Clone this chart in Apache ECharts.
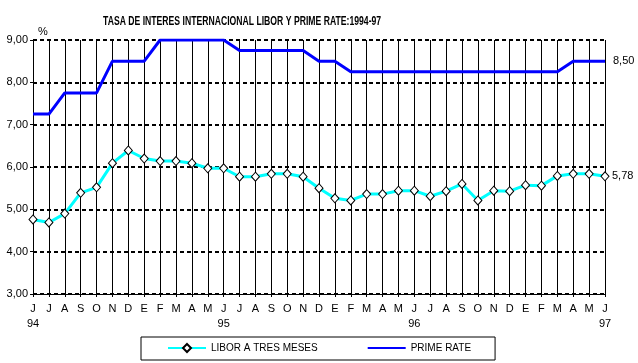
<!DOCTYPE html>
<html>
<head>
<meta charset="utf-8">
<script src="https://cdn.jsdelivr.net/npm/echarts@6/dist/echarts.min.js"></script>
<style>html,body{margin:0;padding:0;background:#fff;}#c{width:638px;height:363px;}</style>
</head>
<body>
<div id="c"></div>
<script>
const months = ['J','J','A','S','O','N','D','E','F','M','A','M','J','J','A','S','O','N','D','E','F','M','A','M','J','J','A','S','O','N','D','E','F','M','A','M','J'];
const yearLabels = {0:'94', 12:'95', 24:'96', 36:'97'};
const libor = [4.76,4.69,4.90,5.39,5.52,6.09,6.39,6.20,6.14,6.14,6.09,5.97,5.97,5.77,5.77,5.84,5.84,5.77,5.50,5.26,5.21,5.36,5.36,5.44,5.44,5.31,5.43,5.60,5.21,5.44,5.43,5.57,5.56,5.79,5.84,5.84,5.78];
const prime = [7.25,7.25,7.75,7.75,7.75,8.50,8.50,8.50,9.00,9.00,9.00,9.00,9.00,8.75,8.75,8.75,8.75,8.75,8.50,8.50,8.25,8.25,8.25,8.25,8.25,8.25,8.25,8.25,8.25,8.25,8.25,8.25,8.25,8.25,8.50,8.50,8.50];
const yTicks = [3,4,5,6,7,8,9];

const fmt = v => Number(v).toFixed(2).replace('.', ',');
const font = 'Liberation Sans, Arial, sans-serif';

const chart = echarts.init(document.getElementById('c'), null, {renderer:'canvas'});
chart.setOption({
  animation: false,
  backgroundColor: '#fff',
  textStyle: {fontFamily: font},
  graphic: [{
    type: 'text',
    left: 103, top: 16,
    scaleX: 0.72,
    style: {
      text: 'TASA DE INTERES INTERNACIONAL LIBOR Y PRIME RATE:1994-97',
      font: 'bold 12px "Liberation Sans", Arial, sans-serif',
      fill: '#000'
    }
  }],
  grid: {left: 33, right: 33, top: 40, bottom: 69, containLabel: false},
  legend: {
    left: 141, top: 337,
    padding: [6, 24, 7, 26],
    itemGap: 49,
    itemWidth: 38, itemHeight: 10,
    borderColor: '#000', borderWidth: 1, borderRadius: 0,
    textStyle: {fontSize: 10, color: '#000', fontFamily: font},
    data: [
      {name: 'LIBOR A TRES MESES'},
      {name: 'PRIME RATE', itemStyle: {opacity: 0}}
    ]
  },
  xAxis: {
    type: 'category',
    boundaryGap: false,
    data: months,
    axisLine: {show: true, lineStyle: {color: '#000', width: 1}},
    axisTick: {show: true, interval: 0, length: 3, lineStyle: {color: '#000'}},
    axisLabel: {
      interval: 0, color: '#000', fontSize: 11, margin: 7, lineHeight: 15,
      formatter: (v, i) => yearLabels[i] ? v + '\n' + yearLabels[i] : v
    },
    splitLine: {show: true, interval: 0, lineStyle: {color: '#000', width: 1, type: 'solid'}}
  },
  yAxis: {
    type: 'value',
    min: 3, max: 9, interval: 1,
    name: '%',
    nameLocation: 'end',
    nameGap: 3,
    nameTextStyle: {color: '#000', fontSize: 11, align: 'left', padding: [0,0,0,5]},
    axisLine: {show: false},
    axisTick: {show: true, length: 3, lineStyle: {color: '#000'}},
    axisLabel: {color: '#000', fontSize: 11, margin: 5, formatter: v => fmt(v)},
    splitLine: {show: true, lineStyle: {color: '#000', width: 2, type: [4, 3]}}
  },
  series: [
    {
      name: 'LIBOR A TRES MESES',
      type: 'line',
      data: libor,
      symbol: 'diamond',
      symbolSize: [8, 9],
      showAllSymbol: true,
      lineStyle: {color: '#00FFFF', width: 3},
      itemStyle: {color: '#fff', borderColor: '#000', borderWidth: 1},
      endLabel: {show: true, formatter: p => fmt(p.value), color: '#000', fontSize: 11, distance: 7},
      z: 3
    },
    {
      name: 'PRIME RATE',
      type: 'line',
      data: prime,
      symbol: 'none',
      lineStyle: {color: '#0000FF', width: 3},
      itemStyle: {color: '#0000FF'},
      endLabel: {show: true, formatter: p => fmt(p.value), color: '#000', fontSize: 11, distance: 8},
      z: 2
    }
  ]
});
</script>
</body>
</html>
